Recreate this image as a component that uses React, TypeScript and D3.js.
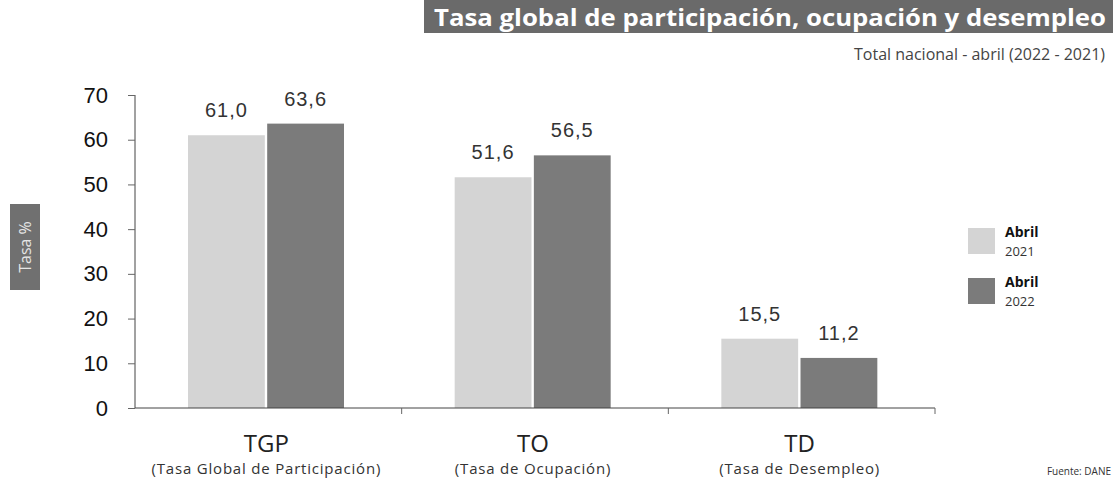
import React, { useRef, useEffect } from 'react';
import * as d3 from 'd3';

const categories = ['TGP', 'TO', 'TD'];
const categoryNames = ['(Tasa Global de Participación)', '(Tasa de Ocupación)', '(Tasa de Desempleo)'];
const series = ['2021', '2022'];
const values2021 = [61.0, 51.6, 15.5];
const values2022 = [63.6, 56.5, 11.2];
const yTicks = [0, 10, 20, 30, 40, 50, 60, 70];

const colors = { '2021': '#d4d4d4', '2022': '#7b7b7b' };

const App = () => {
    const svgRef = useRef(null);

    useEffect(() => {
        const svg = d3.select(svgRef.current);
        svg.selectAll('*').remove();

        const left = 135, right = 935, top = 95, bottom = 408;

        const x0 = d3.scaleBand().domain(categories).range([left, right]).paddingInner(0).paddingOuter(0);
        const x1 = d3.scaleBand().domain(series).range([53, 209]).paddingInner(0.03);
        const y = d3.scaleLinear().domain([0, 70]).range([bottom, top]);

        // title
        svg.append('rect').attr('x', 424).attr('y', 0).attr('width', 689).attr('height', 33).attr('fill', '#6a6a6a');
        svg.append('text').attr('x', 434).attr('y', 26)
            .attr('font-family', 'Open Sans').attr('font-weight', 'bold').attr('font-size', 23)
            .attr('textLength', 672).attr('lengthAdjust', 'spacingAndGlyphs')
            .attr('fill', '#fff').text('Tasa global de participación, ocupación y desempleo');
        svg.append('text').attr('x', 1105).attr('y', 60).attr('text-anchor', 'end')
            .attr('font-family', 'Open Sans').attr('font-size', 16)
            .attr('fill', '#444').text('Total nacional - abril (2022 - 2021)');

        const rows = categories.map((c, i) => [
            { cat: c, key: '2021', value: values2021[i] },
            { cat: c, key: '2022', value: values2022[i] },
        ]);

        const groups = svg.append('g').selectAll('g').data(rows).join('g')
            .attr('transform', (d, i) => `translate(${x0(categories[i])},0)`);

        groups.selectAll('rect').data(d => d).join('rect')
            .attr('x', d => x1(d.key))
            .attr('y', d => y(d.value))
            .attr('width', x1.bandwidth())
            .attr('height', d => bottom - y(d.value))
            .attr('fill', d => colors[d.key]);

        groups.selectAll('text').data(d => d).join('text')
            .attr('x', d => x1(d.key) + x1.bandwidth() / 2)
            .attr('y', d => y(d.value) - 18)
            .attr('text-anchor', 'middle')
            .attr('font-family', 'Liberation Sans, Arial').attr('font-size', 20)
            .attr('letter-spacing', 1)
            .attr('fill', '#333')
            .text(d => d3.format('.1f')(d.value).replace('.', ','));

        // y axis
        const yAxis = svg.append('g').attr('transform', `translate(${left},0)`)
            .call(d3.axisLeft(y).tickValues(yTicks).tickSize(7).tickPadding(20));
        yAxis.select('.domain').attr('stroke', '#444').attr('d', `M-0,${top}V${bottom}`);
        yAxis.selectAll('line').attr('stroke', '#666');
        yAxis.selectAll('text').attr('font-family', 'Liberation Sans, Arial').attr('font-size', 22)
            .attr('fill', '#111');

        // x axis
        const xAxis = svg.append('g').attr('transform', `translate(0,${bottom})`);
        xAxis.append('line').attr('x1', left).attr('x2', right).attr('stroke', '#444');
        xAxis.selectAll('.tk').data(categories.slice(1).concat(['end'])).join('line')
            .attr('x1', d => d === 'end' ? right : x0(d)).attr('x2', d => d === 'end' ? right : x0(d))
            .attr('y1', 0).attr('y2', 6).attr('stroke', '#666');

        const labels = svg.append('g').selectAll('g').data(categories).join('g')
            .attr('transform', d => `translate(${x0(d) + x0.bandwidth() / 2 - 2},0)`);
        labels.append('text').attr('y', 452).attr('text-anchor', 'middle')
            .attr('font-family', 'Open Sans').attr('font-size', 24).attr('fill', '#222')
            .text(d => d);
        labels.append('text').attr('y', 474).attr('text-anchor', 'middle')
            .attr('font-family', 'Open Sans').attr('font-size', 15).attr('letter-spacing', 0.8)
            .attr('fill', '#333')
            .text((d, i) => categoryNames[i]);

        // y label
        const yl = svg.append('g').attr('transform', 'translate(25,247) rotate(-90)');
        yl.append('rect').attr('x', -43).attr('y', -15).attr('width', 86).attr('height', 30).attr('fill', '#707070');
        yl.append('text').attr('y', 6).attr('text-anchor', 'middle').attr('font-family', 'Open Sans')
            .attr('font-size', 16).attr('fill', '#e6e6e6').text('Tasa %');

        // legend
        const legend = svg.append('g').attr('transform', 'translate(968,228)');
        series.forEach((s, i) => {
            const g = legend.append('g').attr('transform', `translate(0,${i * 50})`);
            g.append('rect').attr('width', 27).attr('height', 26).attr('fill', colors[s]);
            g.append('text').attr('x', 37).attr('y', 9).attr('font-family', 'Open Sans').attr('font-weight', 'bold')
                .attr('font-size', 14).attr('fill', '#111').text('Abril');
            g.append('text').attr('x', 37).attr('y', 28).attr('font-family', 'Open Sans')
                .attr('font-size', 13).attr('fill', '#333').text(s);
        });

        svg.append('text').attr('x', 1111).attr('y', 475).attr('text-anchor', 'end')
            .attr('font-family', 'Open Sans').attr('font-size', 10).attr('fill', '#333').text('Fuente: DANE');
    }, []);

    return <svg ref={svgRef} width={1113} height={483} style={{ position: 'absolute', left: 0, top: 0, background: '#fff' }} />;
};

export default App;
